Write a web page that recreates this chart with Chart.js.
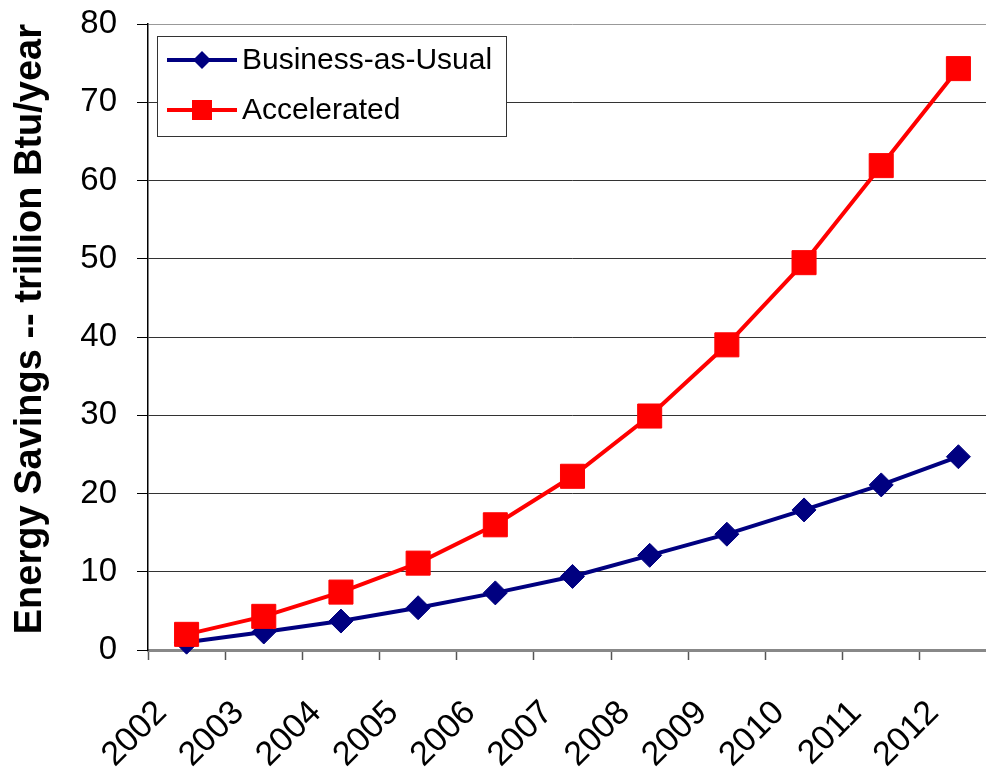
<!DOCTYPE html>
<html>
<head>
<meta charset="utf-8">
<script src="https://cdn.jsdelivr.net/npm/chart.js@4.4.1/dist/chart.umd.min.js"></script>
<style>
  html, body { margin: 0; padding: 0; background: #fff; overflow: hidden; }
  #wrap { width: 997px; height: 773px; }
</style>
</head>
<body>
<div id="wrap"><canvas id="chart"></canvas></div>
<script>
const years = ['2002', '2003', '2004', '2005', '2006', '2007', '2008', '2009', '2010', '2011', '2012'];
const businessAsUsual = [1.0, 2.3, 3.7, 5.4, 7.3, 9.4, 12.1, 14.8, 17.9, 21.1, 24.7];
const accelerated = [2.0, 4.3, 7.4, 11.1, 16.0, 22.2, 29.9, 39.0, 49.5, 61.9, 74.3];
const yTicks = [0, 10, 20, 30, 40, 50, 60, 70, 80];

const FONT = "'Liberation Sans', Arial, sans-serif";

// legend drawn as a boxed overlay in the top-left corner of the plot
const boxLegend = {
  id: 'boxLegend',
  afterDraw(chart) {
    const { ctx, chartArea } = chart;
    const x0 = chartArea.left + 9, y0 = chartArea.top + 12;
    const w = 349, h = 100;
    ctx.save();
    ctx.fillStyle = '#fff';
    ctx.fillRect(x0, y0, w, h);
    ctx.strokeStyle = '#333';
    ctx.lineWidth = 1;
    ctx.strokeRect(x0 + 0.5, y0 + 0.5, w, h);
    chart.data.datasets.forEach((ds, i) => {
      const cy = y0 + 24 + i * 50;
      const lx = x0 + 10, rx = x0 + 80, mx = (lx + rx) / 2;
      ctx.strokeStyle = ds.borderColor;
      ctx.lineWidth = 4;
      ctx.beginPath();
      ctx.moveTo(lx, cy);
      ctx.lineTo(rx, cy);
      ctx.stroke();
      ctx.fillStyle = ds.borderColor;
      if (ds.pointStyle === 'rectRot') {
        const r = 9;
        ctx.beginPath();
        ctx.moveTo(mx, cy - r);
        ctx.lineTo(mx + r, cy);
        ctx.lineTo(mx, cy + r);
        ctx.lineTo(mx - r, cy);
        ctx.closePath();
        ctx.fill();
      } else {
        ctx.fillRect(mx - 10, cy - 10, 20, 20);
      }
      ctx.fillStyle = '#000';
      ctx.font = '30px ' + FONT;
      ctx.textBaseline = 'middle';
      ctx.textAlign = 'left';
      ctx.fillText(ds.label, rx + 5, cy + 1);
    });
    ctx.restore();
  }
};

new Chart(document.getElementById('chart'), {
  type: 'line',
  data: {
    labels: years,
    datasets: [
      {
        label: 'Business-as-Usual',
        data: businessAsUsual,
        borderColor: '#000080',
        backgroundColor: '#000080',
        borderWidth: 4,
        pointStyle: 'rectRot',
        pointRadius: 12,
        pointHoverRadius: 12,
        pointBorderWidth: 1,
        tension: 0,
        clip: false,
        order: 1
      },
      {
        label: 'Accelerated',
        data: accelerated,
        borderColor: '#ff0000',
        backgroundColor: '#ff0000',
        borderWidth: 4,
        pointStyle: 'rect',
        pointRadius: 17,
        pointHoverRadius: 17,
        pointBorderWidth: 1,
        tension: 0,
        clip: false,
        order: 0
      }
    ]
  },
  options: {
    responsive: true,
    maintainAspectRatio: false,
    animation: false,
    layout: { padding: { top: 24, right: 0, left: 0, bottom: 0 }, autoPadding: false },
    plugins: {
      legend: { display: false },
      tooltip: { enabled: false }
    },
    scales: {
      x: {
        offset: true,
        grid: {
          offset: true,
          drawOnChartArea: false,
          drawTicks: true,
          tickLength: 10,
          tickColor: '#555',
          tickWidth: 1.5
        },
        border: { color: '#888', width: 3 },
        ticks: {
          autoSkip: false,
          minRotation: 45,
          maxRotation: 45,
          labelOffset: -25,
          padding: 33,
          color: '#000',
          font: { family: FONT, size: 34 }
        },
        afterFit(scale) {
          scale.height = 123;
          scale.paddingLeft = 0;
          scale.paddingRight = 0;
        }
      },
      y: {
        min: 0,
        max: 80,
        afterBuildTicks(scale) { scale.ticks = yTicks.map(v => ({ value: v })); },
        grid: {
          color: ctx => (ctx.tick && ctx.tick.value === 80 ? '#999' : '#333'),
          lineWidth: 1,
          tickLength: 11,
          tickColor: '#000'
        },
        border: { color: '#000', width: 1.5 },
        ticks: {
          padding: 20,
          color: '#000',
          font: { family: FONT, size: 33 }
        },
        title: {
          display: true,
          text: 'Energy Savings -- trillion Btu/year',
          color: '#000',
          align: 'end',
          padding: { top: 8, bottom: 0 },
          font: { family: FONT, size: 38, weight: 'bold', lineHeight: 1.2 }
        },
        afterFit(scale) {
          scale.width = 148;
          scale.paddingTop = 0;
          scale.paddingBottom = 0;
        }
      }
    }
  },
  plugins: [boxLegend]
});
</script>
</body>
</html>
